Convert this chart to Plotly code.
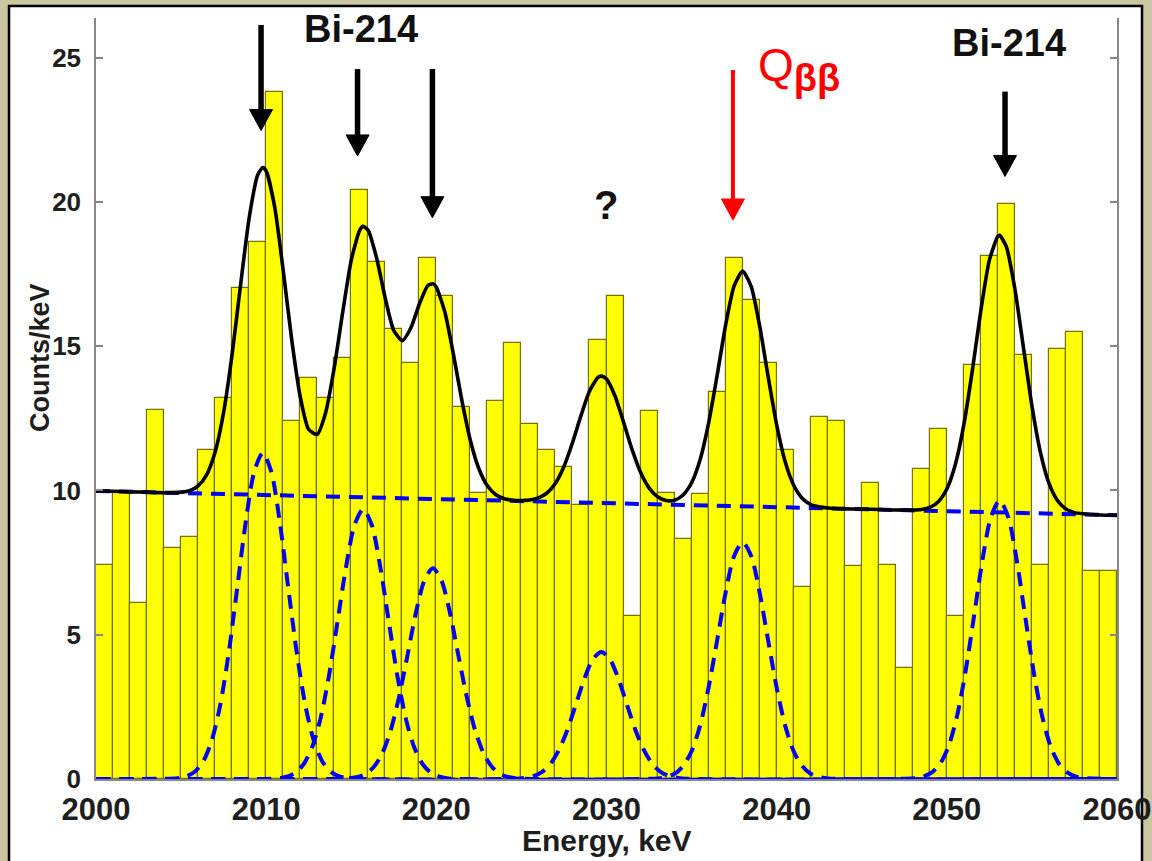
import plotly.graph_objects as go

# ---------------- data ----------------
bin_start = 2000          # keV, first bin edge
bin_width = 1             # keV
counts = [7.4, 9.9, 6.1, 12.8, 8.0, 8.4, 11.4, 13.2, 17.0, 18.6,
          23.8, 12.4, 13.9, 13.2, 14.6, 20.4, 17.9, 15.6, 14.4, 18.05,
          16.75, 12.9, 9.9, 13.1, 15.1, 12.3, 11.4, 10.8, 9.5, 15.2,
          16.75, 5.66, 12.76, 9.9, 8.3, 9.86, 13.4, 18.07, 16.6, 14.4,
          11.4, 6.67, 12.55, 12.4, 7.38, 10.25, 7.42, 3.86, 10.73, 12.12,
          5.66, 14.35, 18.13, 19.94, 14.7, 7.42, 14.9, 15.5, 7.2, 7.2]

# total fit (black solid curve)
fit_x = [2000, 2001, 2002, 2003, 2004, 2005, 2005.5, 2006, 2006.5, 2007, 2007.5,
         2008, 2008.5, 2009, 2009.5, 2009.8, 2010, 2010.5, 2011, 2011.5, 2012,
         2012.5, 2013, 2013.5, 2014, 2014.5, 2015, 2015.5, 2015.7, 2016, 2016.5,
         2017, 2017.5, 2018, 2018.5, 2019, 2019.5, 2019.8, 2020, 2020.5, 2021,
         2021.5, 2022, 2022.5, 2023, 2023.5, 2024, 2024.5, 2025, 2025.5, 2026,
         2026.5, 2027, 2027.5, 2028, 2028.5, 2029, 2029.5, 2029.7, 2030, 2030.5,
         2031, 2031.5, 2032, 2032.5, 2033, 2033.5, 2034, 2034.5, 2035, 2035.5,
         2036, 2036.5, 2037, 2037.5, 2038, 2038.5, 2039, 2039.5, 2040, 2040.5,
         2041, 2041.5, 2042, 2042.5, 2043, 2044, 2045, 2046, 2047, 2048, 2048.5,
         2049, 2049.5, 2050, 2050.5, 2051, 2051.5, 2052, 2052.5, 2053, 2053.1,
         2053.5, 2054, 2054.5, 2055, 2055.5, 2056, 2056.5, 2057, 2057.5, 2058,
         2059, 2060]
fit_y = [9.98, 9.97, 9.95, 9.94, 9.92, 9.94, 9.99, 10.16, 10.54, 11.33, 12.71,
         14.72, 17.14, 19.44, 20.93, 21.19, 21.07, 19.82, 17.63, 15.23, 13.25,
         12.11, 11.94, 12.71, 14.25, 16.18, 17.98, 19.02, 19.15, 19.01, 18.03,
         16.65, 15.54, 15.19, 15.63, 16.45, 17.10, 17.16, 17.04, 16.18, 14.73,
         13.12, 11.73, 10.75, 10.16, 9.85, 9.71, 9.66, 9.65, 9.67, 9.74,
         9.91, 10.25, 10.83, 11.65, 12.59, 13.44, 13.92, 13.96, 13.86, 13.27,
         12.37, 11.42, 10.63, 10.09, 9.78, 9.65, 9.66, 9.84, 10.26, 11.06,
         12.33, 13.98, 15.73, 17.09, 17.60, 17.07, 15.70, 13.94, 12.27, 10.99,
         10.18, 9.73, 9.51, 9.43, 9.39, 9.36, 9.35, 9.34, 9.32, 9.32, 9.34,
         9.41, 9.61, 10.05, 10.90, 12.28, 14.16, 16.24, 17.98, 18.81, 18.84,
         18.44, 16.98, 14.96, 12.93, 11.32, 10.25, 9.65, 9.36, 9.23, 9.19,
         9.15, 9.14]

# background (blue dashed straight line)
bkg_x = [2000, 2060]
bkg_y = [9.98, 9.14]

# individual peak components (blue dashed)
peak1_x = [2000, 2004.8, 2005.3, 2005.8, 2006.3, 2006.8, 2007.3, 2007.8, 2008.3, 2008.8, 2009.3,
           2009.8, 2010.3, 2010.8, 2011.3, 2011.8, 2012.3, 2012.8, 2013.3, 2013.8, 2014.3, 2014.8, 2060]
peak1_y = [0, 0.03, 0.09, 0.25, 0.61, 1.33, 2.56, 4.37, 6.62, 8.91, 10.65,
           11.30, 10.65, 8.91, 6.62, 4.37, 2.56, 1.33, 0.61, 0.25, 0.09, 0.03, 0]
peak2_x = [2000, 2010.7, 2011.2, 2011.7, 2012.2, 2012.7, 2013.2, 2013.7, 2014.2, 2014.7, 2015.2,
           2015.7, 2016.2, 2016.7, 2017.2, 2017.7, 2018.2, 2018.7, 2019.2, 2019.7, 2020.2, 2020.7, 2060]
peak2_y = [0, 0.02, 0.08, 0.21, 0.51, 1.10, 2.11, 3.61, 5.48, 7.37, 8.81,
           9.35, 8.81, 7.37, 5.48, 3.61, 2.11, 1.10, 0.51, 0.21, 0.08, 0.02, 0]
peak3_x = [2000, 2014.8, 2015.3, 2015.8, 2016.3, 2016.8, 2017.3, 2017.8, 2018.3, 2018.8, 2019.3,
           2019.8, 2020.3, 2020.8, 2021.3, 2021.8, 2022.3, 2022.8, 2023.3, 2023.8, 2024.3, 2024.8, 2060]
peak3_y = [0, 0.02, 0.06, 0.16, 0.40, 0.86, 1.65, 2.82, 4.27, 5.76, 6.88,
           7.30, 6.88, 5.76, 4.27, 2.82, 1.65, 0.86, 0.40, 0.16, 0.06, 0.02, 0]
peak4_x = [2000, 2024.7, 2025.2, 2025.7, 2026.2, 2026.7, 2027.2, 2027.7, 2028.2, 2028.7, 2029.2,
           2029.7, 2030.2, 2030.7, 2031.2, 2031.7, 2032.2, 2032.7, 2033.2, 2033.7, 2034.2, 2034.7, 2060]
peak4_y = [0, 0.01, 0.04, 0.10, 0.24, 0.52, 1.00, 1.70, 2.58, 3.47, 4.15,
           4.40, 4.15, 3.47, 2.58, 1.70, 1.00, 0.52, 0.24, 0.10, 0.04, 0.01, 0]
peak5_x = [2000, 2033.0, 2033.5, 2034.0, 2034.5, 2035.0, 2035.5, 2036.0, 2036.5, 2037.0, 2037.5,
           2038.0, 2038.5, 2039.0, 2039.5, 2040.0, 2040.5, 2041.0, 2041.5, 2042.0, 2042.5, 2043.0, 2060]
peak5_y = [0, 0.02, 0.07, 0.18, 0.45, 0.96, 1.85, 3.17, 4.80, 6.46, 7.73,
           8.20, 7.73, 6.46, 4.80, 3.17, 1.85, 0.96, 0.45, 0.18, 0.07, 0.02, 0]
peak6_x = [2000, 2048.1, 2048.6, 2049.1, 2049.6, 2050.1, 2050.6, 2051.1, 2051.6, 2052.1, 2052.6,
           2053.1, 2053.6, 2054.1, 2054.6, 2055.1, 2055.6, 2056.1, 2056.6, 2057.1, 2057.6, 2058.1, 2060]
peak6_y = [0, 0.03, 0.08, 0.22, 0.52, 1.13, 2.18, 3.73, 5.65, 7.61, 9.09,
           9.65, 9.09, 7.61, 5.65, 3.73, 2.18, 1.13, 0.52, 0.22, 0.08, 0.03, 0]

x_ticks = [2000, 2010, 2020, 2030, 2040, 2050, 2060]
y_ticks = [0, 5, 10, 15, 20, 25]

# marker arrows: energy of arrow, y of tip, y of tail (Counts/keV units)
arrow_energy = [2009.7, 2015.37, 2019.77, 2037.43, 2053.42]
arrow_tip = [22.47, 21.59, 19.45, 19.37, 20.88]
arrow_tail = [26.13, 24.6, 24.6, 24.57, 23.82]
arrow_color = ["black", "black", "black", "#ff0000", "black"]
arrow_shaft = [5.5, 5.5, 5.5, 4, 5.5]

# ---------------- figure ----------------
FONT = "Liberation Sans, Arial, sans-serif"
W, H = 1152, 861
ML, MR, MT, MB = 96, 35, 18, 82
PW, PH = W - ML - MR, H - MT - MB
YR = 26.37
HEAD_LEN = 21 * YR / PH            # arrow head length in y units (~21 px)
HEAD_HALF = 11.5 * 60 / PW         # arrow head half width in keV (~11.5 px)

bin_centers = [bin_start + bin_width * (i + 0.5) for i in range(len(counts))]

fig = go.Figure()
fig.add_trace(go.Bar(x=bin_centers, y=counts, width=bin_width,
                     marker=dict(color="#ffff00", line=dict(color="rgb(115,115,10)", width=1.2)),
                     hoverinfo="x+y"))

dash_style = dict(color="#0000ff", width=4, dash="14px,9px", shape="spline", smoothing=0.8)
for px_, py_ in [(peak1_x, peak1_y), (peak2_x, peak2_y), (peak3_x, peak3_y),
                 (peak4_x, peak4_y), (peak5_x, peak5_y), (peak6_x, peak6_y)]:
    fig.add_trace(go.Scatter(x=px_, y=py_, mode="lines", line=dash_style))
fig.add_trace(go.Scatter(x=bkg_x, y=bkg_y, mode="lines",
                         line=dict(color="#0000ff", width=4, dash="14px,9px")))
fig.add_trace(go.Scatter(x=fit_x, y=fit_y, mode="lines",
                         line=dict(color="black", width=3.6, shape="spline", smoothing=0.6)))

shapes = [dict(type="rect", xref="paper", yref="paper", layer="below",
               x0=(9 - ML) / PW, x1=(1142 - ML) / PW,
               y0=(H - MB - 870) / PH, y1=(H - MB - 6) / PH,
               fillcolor="white", line=dict(color="black", width=2.5))]

for ex, yt, ytl, col, sw in zip(arrow_energy, arrow_tip, arrow_tail, arrow_color, arrow_shaft):
    shapes.append(dict(type="line", xref="x", yref="y", x0=ex, x1=ex, y0=ytl, y1=yt + HEAD_LEN * 0.8,
                       line=dict(color=col, width=sw)))
    shapes.append(dict(type="path", xref="x", yref="y",
                       path=f"M {ex - HEAD_HALF},{yt + HEAD_LEN} L {ex + HEAD_HALF},{yt + HEAD_LEN} L {ex},{yt} Z",
                       fillcolor=col, line=dict(color=col, width=1)))

annotations = [
    dict(x=2015.57, y=25.99, xref="x", yref="y", text="<b>Bi-214</b>", showarrow=False,
         font=dict(family=FONT, size=38, color="#111111"), xanchor="center", yanchor="middle"),
    dict(x=2053.65, y=25.5, xref="x", yref="y", text="<b>Bi-214</b>", showarrow=False,
         font=dict(family=FONT, size=38, color="#111111"), xanchor="center", yanchor="middle"),
    dict(x=2029.97, y=19.9, xref="x", yref="y", text="<b>?</b>", showarrow=False,
         font=dict(family=FONT, size=40, color="#111111"), xanchor="center", yanchor="middle"),
    dict(x=2038.8, y=24.6, xref="x", yref="y",
         text="Q<sub><b><span style='font-size:38px'>ββ</span></b></sub>", showarrow=False,
         font=dict(family=FONT, size=46, color="#ff0000"), xanchor="left", yanchor="middle"),
    dict(x=(40 - ML) / PW, y=(H - MB - 358) / PH, xref="paper", yref="paper",
         text="<b>Counts/keV</b>", textangle=-90, showarrow=False,
         font=dict(family=FONT, size=27, color="#1e1e1e"), xanchor="center", yanchor="middle"),
    dict(x=0.5, y=(H - MB - 841) / PH, xref="paper", yref="paper",
         text="<b>Energy, keV</b>", showarrow=False,
         font=dict(family=FONT, size=30, color="#1e1e1e"), xanchor="center", yanchor="middle"),
]

fig.update_layout(
    width=W, height=H,
    margin=dict(l=ML, r=MR, t=MT, b=MB, pad=0, autoexpand=False),
    paper_bgcolor="#cbc6a2", plot_bgcolor="white",
    showlegend=False, bargap=0,
    annotations=annotations, shapes=shapes,
    xaxis=dict(range=[2000, 2060], tickvals=x_ticks, ticktext=[str(v) for v in x_ticks],
               showgrid=False, zeroline=False, showline=True, linecolor="#888888", linewidth=1.5,
               ticks="", ticklabelstandoff=2,
               tickfont=dict(family=FONT, size=31, color="#1e1e1e", weight="bold")),
    yaxis=dict(range=[0, YR], tickvals=y_ticks, showgrid=False, zeroline=False,
               showline=True, mirror="ticks", linecolor="#888888", linewidth=1.5,
               ticks="inside", ticklen=7, tickcolor="#888888", tickwidth=1.5,
               ticklabelstandoff=8,
               tickfont=dict(family=FONT, size=26, color="#1e1e1e", weight="bold")),
)

fig.write_html("out.html")
